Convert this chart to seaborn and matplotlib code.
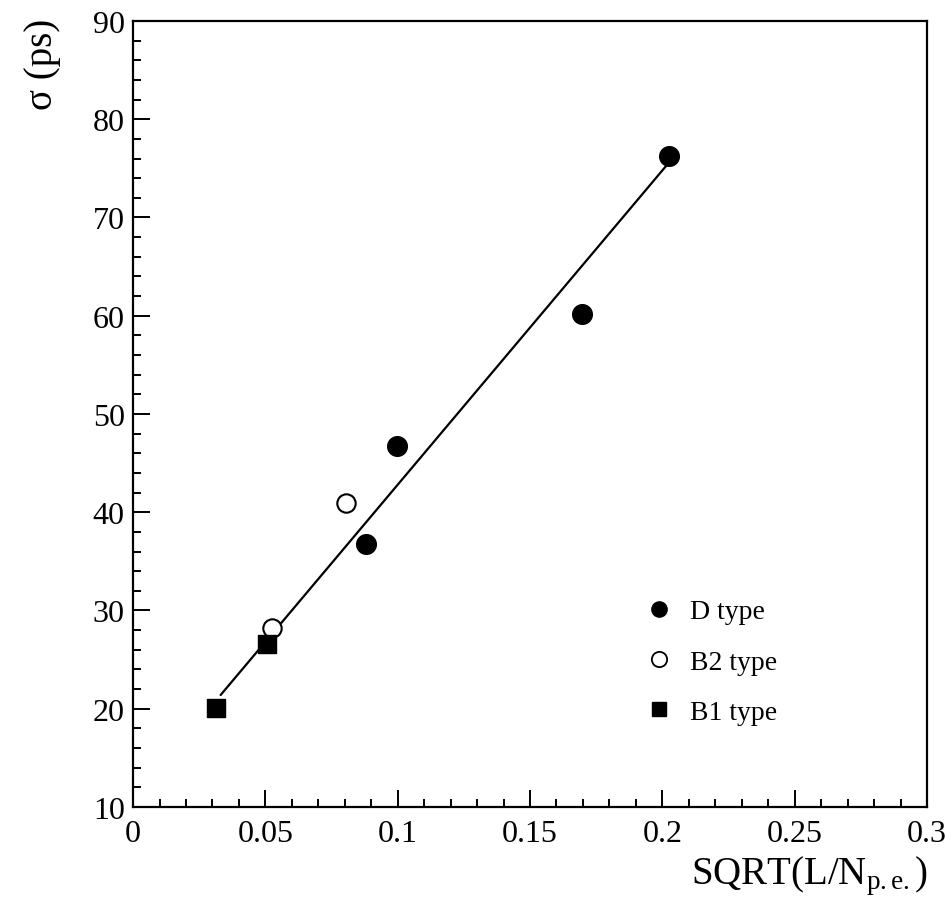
import matplotlib
matplotlib.use("Agg")
import matplotlib.pyplot as plt
import seaborn as sns
import pandas as pd
from matplotlib.lines import Line2D
from matplotlib.ticker import MultipleLocator

# Data
d_x = [0.2025, 0.1696, 0.0997, 0.0880]
d_y = [76.3, 60.2, 46.7, 36.8]
b2_x = [0.0805, 0.0525]
b2_y = [40.9, 28.2]
b1_x = [0.0314, 0.0506]
b1_y = [20.1, 26.6]
fit_x = [0.0331, 0.2016]
fit_y = [21.4, 75.3]
legend_labels = ["D type", "B2 type", "B1 type"]
x_ticks = [0, 0.05, 0.1, 0.15, 0.2, 0.25, 0.3]
x_tick_labels = ["0", "0.05", "0.1", "0.15", "0.2", "0.25", "0.3"]

sns.set_theme(style="white")
plt.rcParams['font.family'] = ['Liberation Serif', 'DejaVu Serif']
plt.rcParams['mathtext.fontset'] = 'custom'
plt.rcParams['mathtext.rm'] = 'Liberation Serif'
plt.rcParams['mathtext.it'] = 'Liberation Serif:italic'
plt.rcParams['text.color'] = 'black'
plt.rcParams['xtick.color'] = 'black'
plt.rcParams['ytick.color'] = 'black'

fig = plt.figure(figsize=(9.53, 9.04), dpi=100)
ax = fig.add_axes([0.1396, 0.1062, 0.8331, 0.8695])

fit_df = pd.DataFrame({"x": fit_x, "y": fit_y})
sns.lineplot(data=fit_df, x="x", y="y", ax=ax, color="black", lw=1.6, sort=False)

d_df = pd.DataFrame({"x": d_x, "y": d_y})
b2_df = pd.DataFrame({"x": b2_x, "y": b2_y})
b1_df = pd.DataFrame({"x": b1_x, "y": b1_y})
sns.scatterplot(data=d_df, x="x", y="y", ax=ax, marker="o", s=200,
                color="black", edgecolor="black", linewidth=1, zorder=3)
sns.scatterplot(data=b2_df, x="x", y="y", ax=ax, marker="o", s=175,
                facecolor="white", edgecolor="black", linewidth=1.5, zorder=3)
sns.scatterplot(data=b1_df, x="x", y="y", ax=ax, marker="s", s=175,
                color="black", edgecolor="black", linewidth=1, zorder=3)

ax.set_xlim(0, 0.3)
ax.set_ylim(10, 90)
ax.xaxis.set_minor_locator(MultipleLocator(0.01))
ax.yaxis.set_major_locator(MultipleLocator(10))
ax.yaxis.set_minor_locator(MultipleLocator(2))
ax.set_xticks(x_ticks)
ax.set_xticklabels(x_tick_labels)
ax.tick_params(axis="both", which="major", direction="in", length=12, width=1.4,
               labelsize=23, pad=6, top=False, right=False, bottom=True, left=True,
               colors="black")
ax.tick_params(axis="x", which="major", pad=9)
ax.tick_params(axis="both", which="minor", direction="in", length=6, width=1.4,
               top=False, right=False, bottom=True, left=True, colors="black")
for sp in ax.spines.values():
    sp.set_linewidth(1.6)
    sp.set_color("black")
ax.set_xlabel("")
ax.set_ylabel("")

fig.text(0.973, 0.022, r"SQRT(L/N$_{\mathrm{p.e.}}$)", ha="right", va="baseline",
         fontsize=28, color="black")
fig.text(0.045, 0.979, "σ (ps)", ha="center", va="top", rotation=90, fontsize=28,
         color="black")

handles = [
    Line2D([], [], marker="o", ls="none", markersize=11, markerfacecolor="black", markeredgecolor="black"),
    Line2D([], [], marker="o", ls="none", markersize=11, markerfacecolor="white", markeredgecolor="black", markeredgewidth=1.3),
    Line2D([], [], marker="s", ls="none", markersize=10, markerfacecolor="black", markeredgecolor="black"),
]
leg = ax.legend(handles, legend_labels, loc="upper left", bbox_to_anchor=(0.628, 0.279),
                frameon=False, fontsize=20, labelspacing=0.9, handletextpad=0.5,
                handlelength=1.2, borderaxespad=0)
for t in leg.get_texts():
    t.set_color("black")

fig.savefig("out.png", dpi=100)
